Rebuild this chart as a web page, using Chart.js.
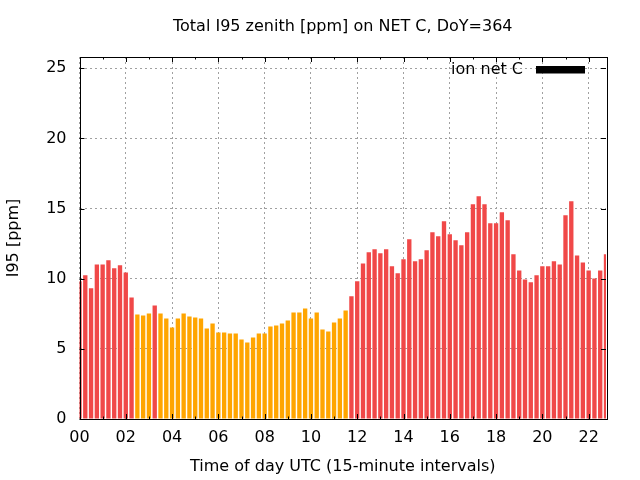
<!DOCTYPE html>
<html>
<head>
<meta charset="utf-8">
<script src="https://cdn.jsdelivr.net/npm/chart.js@4/dist/chart.umd.min.js"></script>
<style>
  html, body { margin: 0; padding: 0; background: #fff; }
  #wrap { width: 640px; height: 480px; }
</style>
</head>
<body>
<div id="wrap"><canvas id="grafico" width="640" height="480"></canvas></div>
<script>
// I95 cada 15 minutos, 00:00 .. 22:45
const valoresI95 = [
  9.81, 10.24, 9.31, 11.02, 11.02, 11.31, 10.74, 10.95, 10.45, 8.66,
  7.45, 7.38, 7.52, 8.09, 7.52, 7.16, 6.52, 7.16, 7.52, 7.31,
  7.24, 7.16, 6.45, 6.81, 6.16, 6.16, 6.09, 6.09, 5.66, 5.45,
  5.81, 6.09, 6.09, 6.59, 6.66, 6.81, 7.02, 7.59, 7.59, 7.88,
  7.16, 7.59, 6.38, 6.24, 6.88, 7.16, 7.74, 8.74, 9.81, 11.09,
  11.88, 12.09, 11.81, 12.09, 10.88, 10.38, 11.38, 12.81, 11.24, 11.38,
  12.02, 13.31, 13.02, 14.09, 13.16, 12.74, 12.38, 13.31, 15.31, 15.88,
  15.31, 13.95, 13.95, 14.74, 14.16, 11.74, 10.59, 9.95, 9.74, 10.24,
  10.88, 10.88, 11.24, 11.02, 14.52, 15.52, 11.66, 11.16, 10.59, 10.02,
  10.59, 11.74
];

const horas = [];
for (let i = 0; i < valoresI95.length; i++) {
  const h = Math.floor(i / 4), m = (i % 4) * 15;
  horas.push(String(h).padStart(2, '0') + ':' + String(m).padStart(2, '0'));
}

const ticksY = [0, 5, 10, 15, 20, 25];
const ticksHoras = [0,1,2,3,4,5,6,7,8,9,10,11,12,13,14,15,16,17,18,19,20,21,22];

const umbral = 8;
const ROJO = '#f04848';
const NARANJA = '#ffa500';
const FUENTE = "'DejaVu Sans', sans-serif";
const TAM = 16;

// borde y marcas hacia adentro, estilo gnuplot
const bordeGnuplot = {
  id: 'bordeGnuplot',
  afterDraw(chart) {
    const ctx = chart.ctx;
    const a = chart.chartArea;
    const sy = chart.scales.y, sx = chart.scales.xt;
    ctx.save();
    ctx.strokeStyle = '#000';
    ctx.lineWidth = 1;
    ctx.beginPath();
    ticksY.forEach(v => {
      const py = Math.round(sy.getPixelForValue(v)) + 0.5;
      ctx.moveTo(a.left, py); ctx.lineTo(a.left + 5, py);
      ctx.moveTo(a.right, py); ctx.lineTo(a.right - 5, py);
    });
    ticksHoras.forEach(v => {
      const px = Math.round(sx.getPixelForValue(v)) + 0.5;
      const len = v % 2 === 0 ? 5 : 2.5;
      ctx.moveTo(px, a.bottom); ctx.lineTo(px, a.bottom - len);
      ctx.moveTo(px, a.top); ctx.lineTo(px, a.top + len);
    });
    ctx.stroke();
    ctx.strokeRect(Math.round(a.left) + 0.5, Math.round(a.top) + 0.5,
                   Math.round(a.right - a.left), Math.round(a.bottom - a.top));

    // leyenda
    const cajaDer = a.right - 21;
    const cajaIzq = cajaDer - 49;
    ctx.fillStyle = '#000';
    ctx.fillRect(cajaIzq, a.top + 9, 49, 7.5);
    ctx.font = TAM + 'px ' + FUENTE;
    ctx.textAlign = 'right';
    ctx.textBaseline = 'middle';
    ctx.fillText('ion net C', cajaIzq - 13, a.top + 13);
    ctx.restore();
  }
};

new Chart(document.getElementById('grafico').getContext('2d'), {
  type: 'bar',
  data: {
    labels: horas,
    datasets: [{
      label: 'ion net C',
      data: valoresI95,
      backgroundColor: valoresI95.map(v => v >= umbral ? ROJO : NARANJA),
      borderWidth: 0,
      barPercentage: 0.75,
      categoryPercentage: 1.0,
      xAxisID: 'x',
      yAxisID: 'y'
    }]
  },
  options: {
    responsive: false,
    animation: false,
    layout: { padding: { left: 0, right: 34, top: 0, bottom: 0 } },
    scales: {
      x: {
        type: 'category',
        display: false,
        offset: false,
        grid: { offset: false }
      },
      xt: {
        type: 'linear',
        position: 'bottom',
        min: 0,
        max: 22.75,
        offset: false,
        z: 1,
        afterFit: s => { s.height = 61; },
        border: { display: false, dash: [2, 3] },
        grid: { color: '#a0a0a0', lineWidth: 1, drawTicks: false, offset: false },
        ticks: {
          stepSize: 2,
          includeBounds: false,
          autoSkip: false,
          maxRotation: 0,
          padding: 9,
          color: '#000',
          font: { family: FUENTE, size: TAM },
          callback: v => String(v).padStart(2, '0')
        },
        title: {
          display: true,
          text: 'Time of day UTC (15-minute intervals)',
          color: '#000',
          font: { family: FUENTE, size: TAM },
          padding: { top: 0, bottom: 4 }
        }
      },
      y: {
        min: 0,
        max: 25.8,
        z: 1,
        afterFit: s => { s.width = 79.5; },
        border: { display: false, dash: [2, 3] },
        grid: { color: '#a0a0a0', lineWidth: 1, drawTicks: false },
        ticks: {
          stepSize: 5,
          includeBounds: false,
          padding: 13,
          color: '#000',
          font: { family: FUENTE, size: TAM }
        },
        title: {
          display: true,
          text: 'I95 [ppm]',
          color: '#000',
          font: { family: FUENTE, size: TAM },
          padding: { top: 4, bottom: 0 }
        }
      }
    },
    plugins: {
      legend: { display: false },
      tooltip: { enabled: false },
      title: {
        display: true,
        fullSize: false,
        text: 'Total I95 zenith [ppm] on NET C, DoY=364',
        color: '#000',
        font: { family: FUENTE, size: TAM, weight: 'normal' },
        padding: { top: 17.4, bottom: 20.4 }
      }
    }
  },
  plugins: [bordeGnuplot]
});
</script>
</body>
</html>
